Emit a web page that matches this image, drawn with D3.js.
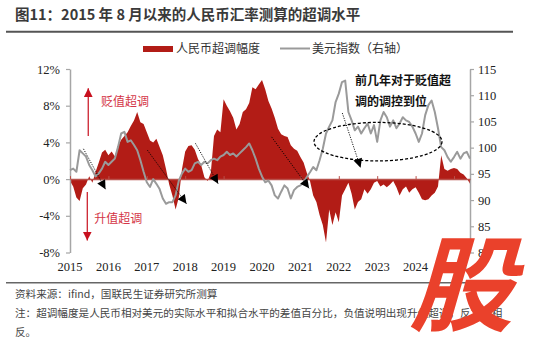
<!DOCTYPE html>
<html>
<head>
<meta charset="utf-8">
<script src="https://cdn.jsdelivr.net/npm/d3@7"></script>
<style>
  body { margin: 0; background: #fff; }
  svg { display: block; }
</style>
</head>
<body>
<div id="chart-container"></div>
<script>
// Monthly data, first point = Aug 2015
const startYear = 2015, startMonth = 7;
const yearLabels = ["2015", "2016", "2017", "2018", "2019", "2020", "2021", "2022", "2023", "2024", "2025"];

// RMB overshoot (%), left axis
const overshoot = [
  -0.2, -0.8, -2.0, -2.4, -1.0, -0.6, 0.3, -0.4, 0.8, 1.8,
  2.9, 3.2, 2.6, 3.0, 2.5, 3.6, 4.3, 4.7, 5.1, 5.8,
  6.4, 7.3, 6.2, 6.0, 5.1, 4.2, 4.0, 4.4, 3.5, 2.6,
  1.1, -0.6, -1.8, -3.3, -2.0, 1.1, 3.0, 3.6, 3.7, 3.2,
  2.2, 1.5, 0.2, -0.2, 0.7, 4.7, 5.4, 5.1, 8.7, 8.0,
  7.4, 6.7, 5.4, 6.0, 7.3, 7.6, 8.3, 10.0, 9.8, 10.3,
  10.8, 9.8, 8.5, 7.7, 6.7, 5.5, 4.9, 4.7, 4.6, 3.7,
  3.3, 3.1, 2.4, 1.8, 0.7, -0.2, -1.8, -2.5, -3.9, -5.0,
  -6.9, -3.3, -5.0, -3.6, -4.7, -1.8, -1.1, -0.4, -1.6, -3.3,
  -2.5, -2.2, -1.1, -1.6, -1.1, -0.4, -0.2, -0.8, -0.6, -0.9,
  -0.6, -0.2, -0.9, -1.8, -1.1, -0.8, -1.5, -1.1, -0.9, -1.5,
  -2.2, -2.3, -2.2, -1.8, -1.5, -0.8, 2.6, 1.1, 0.9, 1.1,
  1.2, 1.1, 0.7, 0.5, 0.1, -0.5
];

// US dollar index, right axis
const dxy = [
  95.7, 96.0, 95.4, 99.5, 98.9, 98.3, 96.7, 95.7, 94.5, 95.1,
  96.0, 97.3, 96.7, 97.3, 97.9, 100.1, 102.7, 103.0, 101.1, 101.4,
  100.5, 99.5, 97.6, 95.4, 93.4, 92.5, 94.0, 93.1, 92.1, 90.3,
  89.3, 89.6, 89.6, 90.9, 93.7, 95.1, 96.0, 95.4, 95.7, 97.0,
  97.3, 96.7, 97.3, 97.0, 97.6, 97.9, 97.6, 98.3, 98.6, 99.2,
  98.6, 98.9, 98.3, 98.9, 99.5, 100.1, 100.8, 99.5, 97.9, 96.0,
  94.5, 93.4, 93.7, 92.8, 90.9, 90.3, 91.6, 92.8, 92.2, 90.3,
  91.9, 92.5, 92.8, 93.4, 94.4, 95.3, 96.3, 95.7, 97.6, 99.8,
  102.7, 104.0, 105.2, 108.7, 110.3, 112.5, 112.8, 106.8, 105.2, 103.3,
  104.0, 102.7, 103.7, 104.6, 102.7, 104.3, 101.1, 105.2, 106.8, 105.8,
  104.0, 105.2, 103.7, 104.6, 105.8, 105.2, 104.9, 104.0, 102.7, 101.1,
  102.7, 106.2, 108.1, 109.0, 106.8, 103.7, 100.1, 99.5, 98.2, 97.3,
  98.2, 99.2, 97.9, 98.9, 99.2, 97.9
];

// dotted black arrows: [month from, value from, month to, value to] (left-axis units)
const trendArrows = [
  [4.2, 3.3, 11.1, -1.1],
  [24.2, 3.15, 36.4, -2.7],
  [39.2, 3.9, 46.3, -0.5],
  [63.0, 4.6, 74.7, -1.0],
  [85.1, 7.2, 90.8, 1.25]
];

const W = 550, H = 347;
const plot = { left: 70, right: 470, top: 69, bottom: 252.5 };

const x = d3.scaleLinear().domain([0, overshoot.length - 1]).range([plot.left, plot.right]);
const yL = d3.scaleLinear().domain([-8, 12]).range([plot.bottom, plot.top]);
const yR = d3.scaleLinear().domain([80, 115]).range([plot.bottom, plot.top]);

const cjk = "'Noto Sans CJK SC', 'Noto Sans', sans-serif";
const serif = "'Liberation Serif', 'DejaVu Serif', serif";
const axisGray = "#a6a6a6";
const red = "#b21c16";

const svg = d3.select("#chart-container")
  .append("svg")
  .attr("width", W)
  .attr("height", H);

const defs = svg.append("defs");
defs.append("marker")
  .attr("id", "blackHead")
  .attr("viewBox", "0 0 10 10")
  .attr("refX", 10).attr("refY", 5)
  .attr("markerWidth", 10).attr("markerHeight", 9)
  .attr("markerUnits", "userSpaceOnUse")
  .attr("orient", "auto")
  .append("path").attr("d", "M0,0L10,5L0,10Z").attr("fill", "#000");
defs.append("marker")
  .attr("id", "redHead")
  .attr("viewBox", "0 0 10 10")
  .attr("refX", 10).attr("refY", 5)
  .attr("markerWidth", 9).attr("markerHeight", 9)
  .attr("markerUnits", "userSpaceOnUse")
  .attr("orient", "auto")
  .append("path").attr("d", "M0,0L10,5L0,10Z").attr("fill", "#c8101e");

// Title
svg.append("text")
  .attr("x", 15).attr("y", 19.5)
  .style("font-family", cjk).style("font-size", "14.5px").style("font-weight", "bold")
  .attr("fill", "#3a3a3a")
  .text("图11：2015 年 8 月以来的人民币汇率测算的超调水平");
svg.append("line")
  .attr("x1", 6).attr("x2", 513).attr("y1", 31.7).attr("y2", 31.7)
  .attr("stroke", "#555").attr("stroke-width", 2);

// Legend
svg.append("rect").attr("x", 143).attr("y", 46).attr("width", 30).attr("height", 6).attr("fill", red);
svg.append("text").attr("x", 176).attr("y", 53)
  .style("font-family", cjk).style("font-size", "12px").attr("fill", "#333")
  .text("人民币超调幅度");
svg.append("line").attr("x1", 280).attr("x2", 310).attr("y1", 48.5).attr("y2", 48.5)
  .attr("stroke", "#9a9a9a").attr("stroke-width", 2);
svg.append("text").attr("x", 312).attr("y", 53)
  .style("font-family", cjk).style("font-size", "12px").attr("fill", "#333")
  .text("美元指数（右轴）");

// Overshoot area
svg.append("path")
  .datum(overshoot)
  .attr("fill", red)
  .attr("d", d3.area()
    .x((d, i) => x(i))
    .y0(yL(0))
    .y1(d => yL(d)));

// Left axis
const gL = svg.append("g")
  .attr("transform", `translate(${plot.left},0)`)
  .call(d3.axisLeft(yL).tickValues([-8, -4, 0, 4, 8, 12]).tickFormat(d => d + "%")
    .tickSizeInner(4).tickSizeOuter(0).tickPadding(6));
// Right axis
const gR = svg.append("g")
  .attr("transform", `translate(${plot.right},0)`)
  .call(d3.axisRight(yR).tickValues(d3.range(80, 116, 5))
    .tickSizeInner(4).tickSizeOuter(0).tickPadding(4));
[gL, gR].forEach(g => {
  g.select(".domain").attr("stroke", axisGray).attr("stroke-width", 1.5);
  g.selectAll(".tick line").attr("stroke", axisGray).attr("stroke-width", 1.2);
  g.selectAll(".tick text").style("font-family", serif).style("font-size", "12.5px").attr("fill", "#222");
});

// Zero line with year ticks
const yearIdx = yearLabels.map((d, i) => i * 12);
const gX = svg.append("g")
  .attr("transform", `translate(0,${yL(0)})`)
  .call(d3.axisTop(x).tickValues(yearIdx).tickFormat("").tickSizeInner(3).tickSizeOuter(0));
gX.select(".domain").attr("stroke", "#b9514b").attr("stroke-width", 1.5);
gX.selectAll(".tick line").attr("stroke", "#b9514b");

svg.append("g").selectAll("text")
  .data(yearLabels)
  .enter().append("text")
  .attr("x", (d, i) => x(yearIdx[i]))
  .attr("y", 271)
  .attr("text-anchor", "middle")
  .style("font-family", serif).style("font-size", "12.5px").attr("fill", "#222")
  .text(d => d);

// Dollar index line
svg.append("path")
  .datum(dxy)
  .attr("fill", "none")
  .attr("stroke", "#9a9a9a")
  .attr("stroke-width", 2)
  .attr("stroke-linejoin", "round")
  .attr("d", d3.line().x((d, i) => x(i)).y(d => yR(d)));

// Dotted trend arrows
svg.append("g").selectAll("line")
  .data(trendArrows)
  .enter().append("line")
  .attr("x1", d => x(d[0])).attr("y1", d => yL(d[1]))
  .attr("x2", d => x(d[2])).attr("y2", d => yL(d[3]))
  .attr("stroke", "#000").attr("stroke-width", 0.9)
  .attr("stroke-dasharray", "1.2,1.3")
  .attr("marker-end", "url(#blackHead)");

// Dashed ellipse
svg.append("ellipse")
  .attr("cx", x(96.25)).attr("cy", yL(4.08))
  .attr("rx", x(20) - x(0)).attr("ry", yL(0) - yL(2.1))
  .attr("fill", "none").attr("stroke", "#000").attr("stroke-width", 1.3)
  .attr("stroke-dasharray", "3,2");

// Annotation text
svg.append("text").attr("x", x(89.1)).attr("y", yL(10.77) + 4.5)
  .style("font-family", cjk).style("font-size", "12px").style("font-weight", "bold").attr("fill", "#111")
  .text("前几年对于贬值超");
svg.append("text").attr("x", x(89.1)).attr("y", yL(8.48) + 4.5)
  .style("font-family", cjk).style("font-size", "12px").style("font-weight", "bold").attr("fill", "#111")
  .text("调的调控到位");

// Red direction arrows
svg.append("line")
  .attr("x1", x(5.7)).attr("x2", x(5.7)).attr("y1", yL(4.7)).attr("y2", yL(9.9))
  .attr("stroke", "#c8101e").attr("stroke-width", 1.2).attr("marker-end", "url(#redHead)");
svg.append("line")
  .attr("x1", x(5.4)).attr("x2", x(5.4)).attr("y1", yL(-1.4)).attr("y2", yL(-6.7))
  .attr("stroke", "#c8101e").attr("stroke-width", 1.2).attr("marker-end", "url(#redHead)");
svg.append("text").attr("x", x(9.7)).attr("y", yL(8.5) + 4.5)
  .style("font-family", cjk).style("font-size", "12px").attr("fill", "#d43546")
  .text("贬值超调");
svg.append("text").attr("x", x(7.6)).attr("y", yL(-4.3) + 4.5)
  .style("font-family", cjk).style("font-size", "12px").attr("fill", "#d43546")
  .text("升值超调");

// Footer
svg.append("line")
  .attr("x1", 6).attr("x2", 513).attr("y1", 282.7).attr("y2", 282.7)
  .attr("stroke", "#666").attr("stroke-width", 1.5);
const notes = [
  "资料来源：ifind，国联民生证券研究所测算",
  "注：超调幅度是人民币相对美元的实际水平和拟合水平的差值百分比，负值说明出现升值超调，反之则相",
  "反。"
];
svg.append("g").selectAll("text")
  .data(notes)
  .enter().append("text")
  .attr("x", 15)
  .attr("y", (d, i) => 298 + i * 18.8)
  .style("font-family", cjk).style("font-size", "10.6px").attr("fill", "#444")
  .text(d => d);

// Watermark glyph
svg.append("text")
  .attr("transform", "translate(409,323) skewX(-16)")
  .style("font-family", cjk).style("font-size", "104px").style("font-weight", "bold")
  .attr("fill", "#ea412b")
  .text("股");
</script>
</body>
</html>
